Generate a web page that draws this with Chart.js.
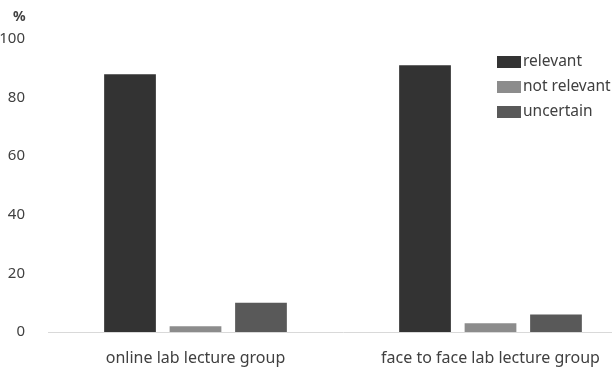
<!DOCTYPE html>
<html>
<head>
<meta charset="utf-8">
<script src="https://cdn.jsdelivr.net/npm/chart.js@4.4.0/dist/chart.umd.min.js"></script>
<style>
    html, body { margin: 0; padding: 0; background: #fff; overflow: hidden; }
    #wrap { width: 640px; height: 369px; }
</style>
</head>
<body>
<div id="wrap"><canvas id="chart"></canvas></div>
<script>
// data
const groups = ["online lab lecture group", "face to face lab lecture group"];
const relevant = [88, 91];
const notRelevant = [2, 3];
const uncertain = [10, 6];
const yTicks = [0, 20, 40, 60, 80, 100];

const textColor = "#404040";
const fontFamily = "'Noto Sans', sans-serif";

// legend drawn on top of the plot, right side
const sideLegend = {
    id: "sideLegend",
    afterDraw(chart) {
        const { ctx } = chart;
        ctx.save();
        ctx.font = `15.5px ${fontFamily}`;
        ctx.textBaseline = "middle";
        chart.data.datasets.forEach((ds, i) => {
            const y = 62 + i * 25;
            ctx.fillStyle = ds.backgroundColor;
            ctx.fillRect(497, y - 6, 24, 12);
            ctx.fillStyle = textColor;
            ctx.fillText(ds.label, 523, y);
        });
        // unit label over the y axis
        ctx.font = `bold 14px ${fontFamily}`;
        ctx.fillText("%", 13, 17);
        ctx.restore();
    },
};

new Chart(document.getElementById("chart"), {
    type: "bar",
    data: {
        labels: groups,
        datasets: [
            { label: "relevant", data: relevant, backgroundColor: "#333333" },
            { label: "not relevant", data: notRelevant, backgroundColor: "#8c8c8c" },
            { label: "uncertain", data: uncertain, backgroundColor: "#595959" },
        ],
    },
    options: {
        responsive: true,
        maintainAspectRatio: false,
        animation: false,
        layout: { padding: { top: 39, right: 2, left: 0, bottom: 0 } },
        datasets: {
            bar: { categoryPercentage: 0.666, barPercentage: 0.79 },
        },
        scales: {
            x: {
                grid: { display: false },
                border: { display: true, color: "#d9d9d9", width: 1 },
                ticks: {
                    color: textColor,
                    font: { family: fontFamily, size: 16 },
                    padding: 9,
                    maxRotation: 0,
                },
                afterFit: (scale) => { scale.height = 37; },
            },
            y: {
                min: 0,
                max: 100,
                grid: { display: false },
                border: { display: false },
                afterBuildTicks: (scale) => {
                    scale.ticks = yTicks.map((v) => ({ value: v }));
                },
                ticks: {
                    color: textColor,
                    font: { family: fontFamily, size: 15 },
                    padding: 15,
                },
                afterFit: (scale) => { scale.width = 48; },
            },
        },
        plugins: {
            legend: { display: false },
            tooltip: { enabled: false },
        },
    },
    plugins: [sideLegend],
});
</script>
</body>
</html>
